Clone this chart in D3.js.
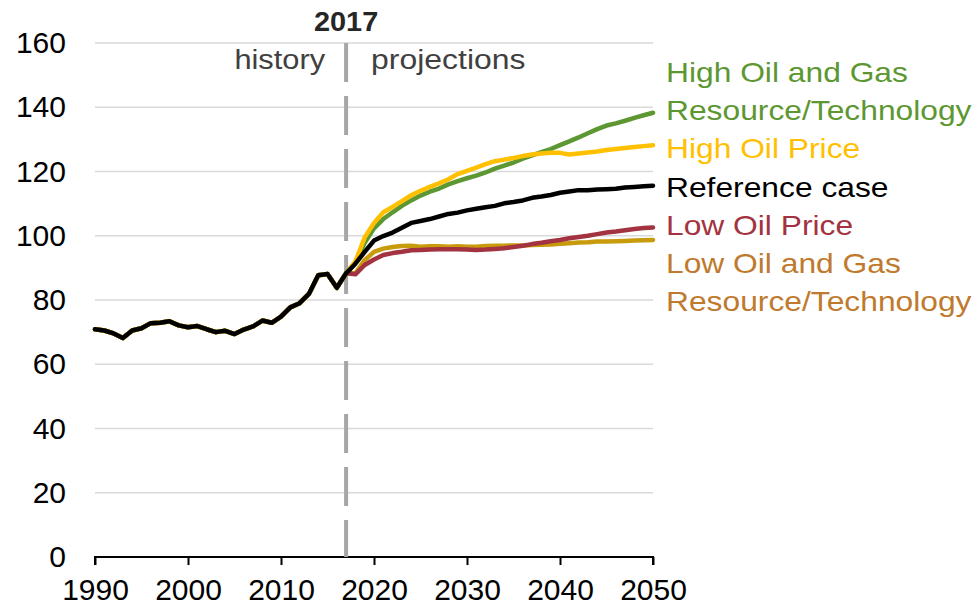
<!DOCTYPE html>
<html><head><meta charset="utf-8">
<script src="https://cdn.jsdelivr.net/npm/d3@7"></script>
<style>
html,body{margin:0;padding:0;background:#fff;}
svg{display:block;font-family:"Liberation Sans",Arial,sans-serif;}
</style></head>
<body><svg id="c" width="980" height="609"></svg>
<script>
const historyYears = d3.range(1990, 2018);
const historyValues = [70.9,70.5,69.6,68.2,70.5,71.2,72.8,72.9,73.4,72.1,71.5,71.9,70.9,70.0,70.4,69.4,70.8,71.8,73.6,72.9,74.8,77.7,79.0,81.9,87.7,88.1,83.8,88.3];
const projYears = d3.range(2017, 2051);
const referenceCase = [88.3,91.3,95.0,98.5,99.9,101.0,102.5,104.0,104.6,105.2,106.0,106.8,107.2,107.9,108.4,108.9,109.3,110.1,110.5,111.0,111.8,112.2,112.7,113.4,113.8,114.2,114.2,114.4,114.5,114.6,115.0,115.2,115.4,115.6];
const highOilPrice = [88.3,92.0,99.5,104.0,107.3,109.0,110.8,112.6,114.0,115.2,116.3,117.6,119.2,120.2,121.2,122.3,123.2,123.7,124.2,124.8,125.3,125.6,125.8,125.8,125.3,125.6,125.9,126.2,126.7,127.0,127.3,127.6,127.9,128.2];
const highOGRT = [88.3,91.6,97.8,102.3,105.2,107.3,109.3,111.0,112.5,113.7,114.7,116.0,117.0,117.9,118.7,119.7,120.9,121.8,122.8,124.0,125.0,126.0,127.0,128.2,129.4,130.6,131.9,133.2,134.3,135.0,135.8,136.7,137.5,138.3];
const lowOilPrice = [88.3,88.0,90.9,92.6,94.0,94.6,95.0,95.5,95.6,95.7,95.8,95.8,95.8,95.7,95.6,95.7,95.9,96.1,96.5,96.9,97.4,97.8,98.3,98.7,99.2,99.6,100.0,100.5,101.0,101.3,101.7,102.1,102.4,102.6];
const lowOGRT = [88.3,88.3,92.4,95.0,96.0,96.5,96.8,96.9,96.6,96.7,96.7,96.6,96.7,96.6,96.6,96.8,96.9,96.9,97.0,97.0,97.1,97.2,97.3,97.5,97.7,97.9,98.0,98.2,98.2,98.3,98.4,98.5,98.6,98.7];
const yTicks = [0,20,40,60,80,100,120,140,160];
const xTicks = [1990,2000,2010,2020,2030,2040,2050];
const legendLabels = [
  ["High Oil and Gas","Resource/Technology"],
  ["High Oil Price"],
  ["Reference case"],
  ["Low Oil Price"],
  ["Low Oil and Gas","Resource/Technology"]
];

const svg = d3.select("#c");
const x = d3.scaleLinear().domain([1990,2050]).range([95,653]);
const y = d3.scaleLinear().domain([0,160]).range([557,43]);

// gridlines
svg.append("g").selectAll("line").data(yTicks.filter(d=>d>0)).join("line")
  .attr("x1",x(1990)).attr("x2",x(2050)).attr("y1",d=>y(d)).attr("y2",d=>y(d))
  .attr("stroke","#d9d9d9").attr("stroke-width",1.5);

// y labels
const yAxis = svg.append("g").attr("transform","translate(66,0)")
  .call(d3.axisLeft(y).tickValues(yTicks).tickSize(0).tickPadding(0));
yAxis.select(".domain").remove();
yAxis.selectAll("text").attr("font-size",30).attr("fill","#000").attr("font-family","Liberation Sans, Arial, sans-serif");

// x axis
const xAxis = svg.append("g").attr("transform",`translate(0,${y(0)})`)
  .call(d3.axisBottom(x).tickValues(xTicks).tickFormat(d3.format("d")).tickSize(8).tickPadding(14));
xAxis.select(".domain").attr("stroke","#000").attr("stroke-width",2).attr("d",`M${x(1990)},8V0H${x(2050)}V8`);
xAxis.selectAll("line").attr("stroke","#000").attr("stroke-width",2);
xAxis.selectAll("text").attr("font-size",30).attr("fill","#000").attr("font-family","Liberation Sans, Arial, sans-serif");

// dashed 2017 line
svg.append("line").attr("x1",x(2017)).attr("x2",x(2017)).attr("y1",y(160)).attr("y2",y(0))
  .attr("stroke","#a6a6a6").attr("stroke-width",4).attr("stroke-dasharray","39,14");

// series
const full = vals => historyYears.slice(0,-1).map((yr,i)=>[yr,historyValues[i]]).concat(projYears.map((yr,i)=>[yr,vals[i]]));
const line = d3.line().x(d=>x(d[0])).y(d=>y(d[1]));
const series = [
  {vals:lowOGRT, color:"#c89b0c"},
  {vals:lowOilPrice, color:"#a33340"},
  {vals:highOGRT, color:"#5d9732"},
  {vals:highOilPrice, color:"#ffc000"},
  {vals:referenceCase, color:"#000000"}
];
series.forEach(s=>{
  svg.append("path").datum(full(s.vals)).attr("d",line).attr("fill","none")
    .attr("stroke",s.color).attr("stroke-width",4.5).attr("stroke-linejoin","round").attr("stroke-linecap","round");
});

// top labels
svg.append("text").attr("transform",`translate(${x(2017)},31) scale(1.07,1)`).attr("text-anchor","middle")
  .attr("font-size",27).attr("font-weight","bold").attr("fill","#262626").text("2017");
svg.append("text").attr("transform",`translate(${x(2017)-21},69) scale(1.1,1)`).attr("text-anchor","end")
  .attr("font-size",28).attr("fill","#404040").text("history");
svg.append("text").attr("transform",`translate(${x(2017)+25},69) scale(1.14,1)`).attr("text-anchor","start")
  .attr("font-size",28).attr("fill","#404040").text("projections");

// legend
const legendColors = ["#5d9732","#ffc000","#000000","#a33340","#c07a2e"];
const baselines = [82,120,158,197,235,273,311];
let k = 0;
legendLabels.forEach((lines,i)=>{
  lines.forEach(t=>{
    svg.append("text").attr("transform",`translate(666,${baselines[k]}) scale(1.135,1)`)
      .attr("font-size",28).attr("fill",legendColors[i]).text(t);
    k++;
  });
});
</script></body></html>
